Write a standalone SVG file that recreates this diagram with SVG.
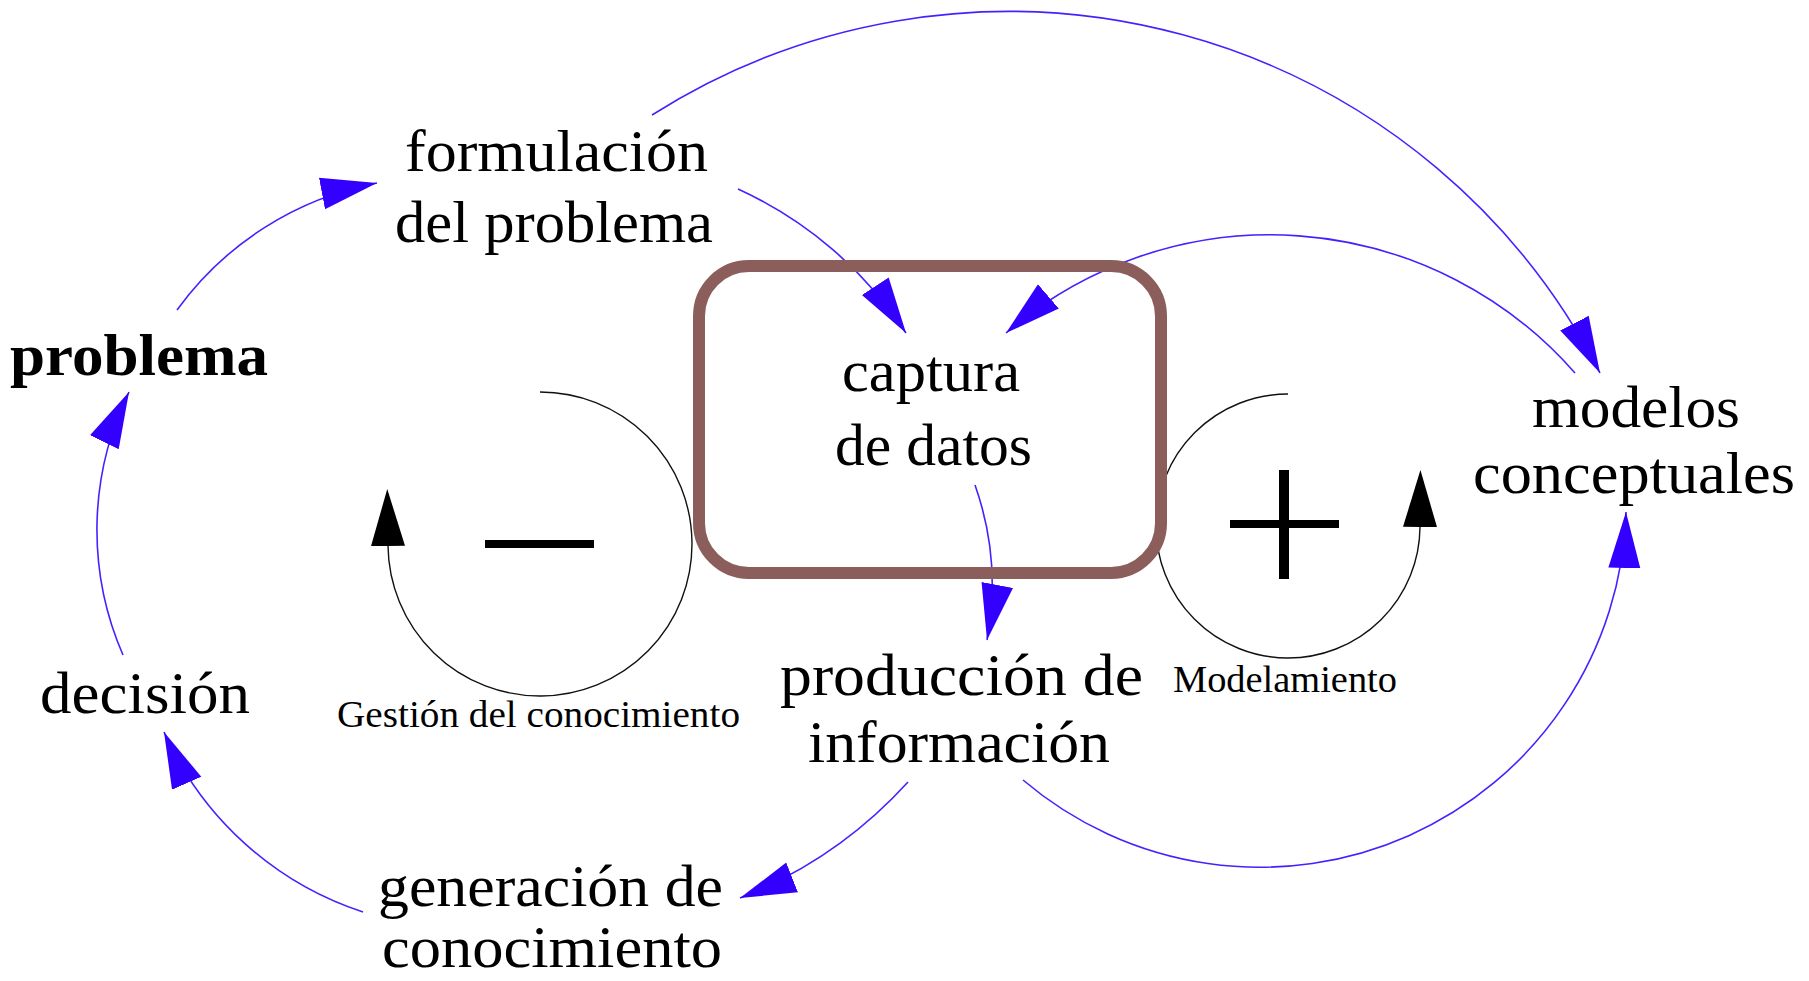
<svg xmlns="http://www.w3.org/2000/svg" width="1809" height="981" viewBox="0 0 1809 981">
<style>
  .lbl { font-family: "Liberation Serif", "Times New Roman", serif; font-size: 60px; fill: #000; }
  .bold { font-weight: bold; }
  .small { font-family: "Liberation Serif", "Times New Roman", serif; font-size: 37px; fill: #000; }
  .link { fill: none; stroke: #4422ff; stroke-width: 1.6; marker-end: url(#headBlue); }
  .loop { fill: none; stroke: #111; stroke-width: 1.4; marker-end: url(#headBlack); }
  .box { fill: none; stroke: #8b5e5b; stroke-width: 12; }
  .sign { fill: #000; }
</style>
<defs>
  <marker id="headBlue" markerUnits="userSpaceOnUse" viewBox="0 -17 57 34" refX="56" refY="0" markerWidth="57" markerHeight="34" orient="auto">
    <path d="M0,-16 L56,0 L0,16 Z" fill="#3300ff"/>
  </marker>
  <marker id="headBlack" markerUnits="userSpaceOnUse" viewBox="0 -18 58 36" refX="0" refY="0" markerWidth="58" markerHeight="36" orient="auto">
    <path d="M0,-17 L57,0 L0,17 Z" fill="#000"/>
  </marker>
</defs>
<rect width="1809" height="981" fill="#fff"/>

<g id="connectors">
  <path class="link" d="M177,310 A321,321 0 0 1 377,183"/>
  <path class="link" d="M738,189 A398,398 0 0 1 906,333"/>
  <path class="link" d="M652,115 A665,665 0 0 1 1600,373"/>
  <path class="link" d="M1575,373 A405,405 0 0 0 1006,333"/>
  <path class="link" d="M975,485 A300,300 0 0 1 987,640"/>
  <path class="link" d="M908,782 A450,450 0 0 1 740,898"/>
  <path class="link" d="M363,912 A330,330 0 0 1 164,732"/>
  <path class="link" d="M123,655 A313,313 0 0 1 129,392"/>
  <path class="link" d="M1023,780 A366,366 0 0 0 1626,512"/>
</g>

<g id="loop-gestion">
  <path class="loop" d="M540,392 A152,152 0 1 1 388,546"/>
  <rect class="sign" x="485" y="540" width="109" height="8"/>
  <text class="small" x="337" y="727" textLength="403" lengthAdjust="spacingAndGlyphs">Gestión del conocimiento</text>
</g>

<g id="loop-modelamiento">
  <path class="loop" d="M1288,394 A132,132 0 1 0 1420,527"/>
  <rect class="sign" x="1230" y="520" width="109" height="8"/>
  <rect class="sign" x="1279" y="470" width="10" height="109"/>
  <text class="small" x="1173" y="692" textLength="224" lengthAdjust="spacingAndGlyphs">Modelamiento</text>
</g>

<g id="n-formulacion">
  <text class="lbl" x="405" y="171" textLength="303" lengthAdjust="spacingAndGlyphs">formulación</text>
  <text class="lbl" x="395" y="242" textLength="318" lengthAdjust="spacingAndGlyphs">del problema</text>
</g>

<g id="n-problema">
  <text class="lbl bold" x="10" y="375" textLength="258" lengthAdjust="spacingAndGlyphs">problema</text>
</g>

<g id="n-captura">
  <rect class="box" x="699" y="266" width="462" height="307" rx="50" ry="50"/>
  <text class="lbl" x="842" y="391" textLength="178" lengthAdjust="spacingAndGlyphs">captura</text>
  <text class="lbl" x="835" y="465" textLength="197" lengthAdjust="spacingAndGlyphs">de datos</text>
</g>

<g id="n-modelos">
  <text class="lbl" x="1532" y="427" textLength="208" lengthAdjust="spacingAndGlyphs">modelos</text>
  <text class="lbl" x="1473" y="493" textLength="322" lengthAdjust="spacingAndGlyphs">conceptuales</text>
</g>

<g id="n-produccion">
  <text class="lbl" x="780" y="695" textLength="363" lengthAdjust="spacingAndGlyphs">producción de</text>
  <text class="lbl" x="808" y="762" textLength="302" lengthAdjust="spacingAndGlyphs">información</text>
</g>

<g id="n-generacion">
  <text class="lbl" x="378" y="906" textLength="345" lengthAdjust="spacingAndGlyphs">generación de</text>
  <text class="lbl" x="382" y="967" textLength="340" lengthAdjust="spacingAndGlyphs">conocimiento</text>
</g>

<g id="n-decision">
  <text class="lbl" x="40" y="713" textLength="210" lengthAdjust="spacingAndGlyphs">decisión</text>
</g>
</svg>
